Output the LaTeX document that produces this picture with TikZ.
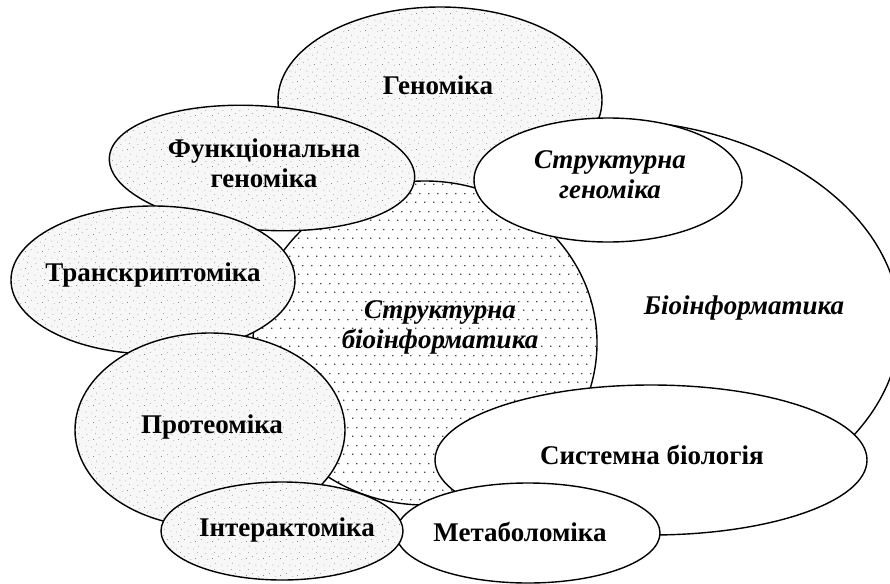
\documentclass[tikz,border=0pt]{standalone}
\usepackage{fontspec}
\setmainfont{Liberation Serif}
\usetikzlibrary{patterns.meta}

% regular dots for the centre oval
\tikzdeclarepattern{
  name=dotgrid,
  type=uncolored,
  bottom left={(0pt,0pt)},
  top right={(9pt,18pt)},
  tile size={(9pt,18pt)},
  code={
    \fill (2pt,4pt) circle (0.8pt);
    \fill (6.5pt,13pt) circle (0.8pt);
  }
}

% grainy speckle for the grey ovals
\tikzdeclarepattern{
  name=speckle,
  type=uncolored,
  bottom left={(0pt,0pt)},
  top right={(17pt,17pt)},
  tile size={(17pt,17pt)},
  code={
    \fill (1pt,2pt) circle (0.4pt);
    \fill (7pt,1pt) circle (0.35pt);
    \fill (12pt,4pt) circle (0.4pt);
    \fill (4pt,8pt) circle (0.35pt);
    \fill (9pt,9pt) circle (0.4pt);
    \fill (15pt,11pt) circle (0.35pt);
    \fill (2pt,14pt) circle (0.4pt);
    \fill (11pt,15pt) circle (0.35pt);
  }
}

\tikzset{
  oval/.style={draw, line width=1.4pt, fill=white},
  grainy/.style={draw, line width=1.4pt, pattern=speckle, pattern color=black!70, preaction={fill=gray!6}},
  dotty/.style={draw, line width=1.4pt, pattern=dotgrid, pattern color=black, preaction={fill=white}},
  lbl/.style={font=\fontsize{27}{30}\selectfont\bfseries, align=center, inner sep=0pt},
  lblit/.style={lbl, font=\fontsize{27}{30}\selectfont\bfseries\itshape}
}

\begin{document}
\begin{tikzpicture}[x=1pt, y=-1pt]

    \useasboundingbox (0,0) rectangle (890,583);

    % Draw the big bioinformatics oval first, the rest sits on it
    \draw[oval] (605,325) ellipse [x radius=295pt, y radius=205pt];

    % Genomics
    \draw[grainy] (440,100) ellipse [x radius=162pt, y radius=93pt];

    % Structural bioinformatics (dotted)
    \draw[dotty] (425,343) ellipse [x radius=172pt, y radius=162pt];

    % Functional genomics
    \draw[grainy] (262,168) ellipse [x radius=153pt, y radius=62pt, rotate=-4];

    % Structural genomics
    \draw[oval] (608,180) ellipse [x radius=134pt, y radius=62pt];

    % Transcriptomics
    \draw[grainy] (153,280) ellipse [x radius=142pt, y radius=74pt];

    % Proteomics
    \draw[grainy] (210,430) ellipse [x radius=135pt, y radius=97pt];

    % Systems biology
    \draw[oval] (651,460) ellipse [x radius=216pt, y radius=75pt];

    % Metabolomics
    \draw[oval] (528,533) ellipse [x radius=132pt, y radius=50pt];

    % Interactomics
    \draw[grainy] (282,531) ellipse [x radius=121pt, y radius=49pt];

    % Labels
    \node[lbl] (genom) at (438,85) {Геноміка};
    \node[lbl] (funcgen) at (264,163) {Функціональна\\геноміка};
    \node[lblit] (strgen) at (610,175) {Структурна\\геноміка};
    \node[lbl] (transcr) at (153,275) {Транскриптоміка};
    \node[lblit] (strbio) at (440,327) {Структурна\\біоінформатика};
    \node[lblit] (bioinf) at (744,308) {Біоінформатика};
    \node[lbl] (proteo) at (212,427) {Протеоміка};
    \node[lbl] (sysbio) at (652,455) {Системна біологія};
    \node[lbl] (interact) at (287,530) {Інтерактоміка};
    \node[lbl] (metab) at (520,532) {Метаболоміка};

\end{tikzpicture}
\end{document}
